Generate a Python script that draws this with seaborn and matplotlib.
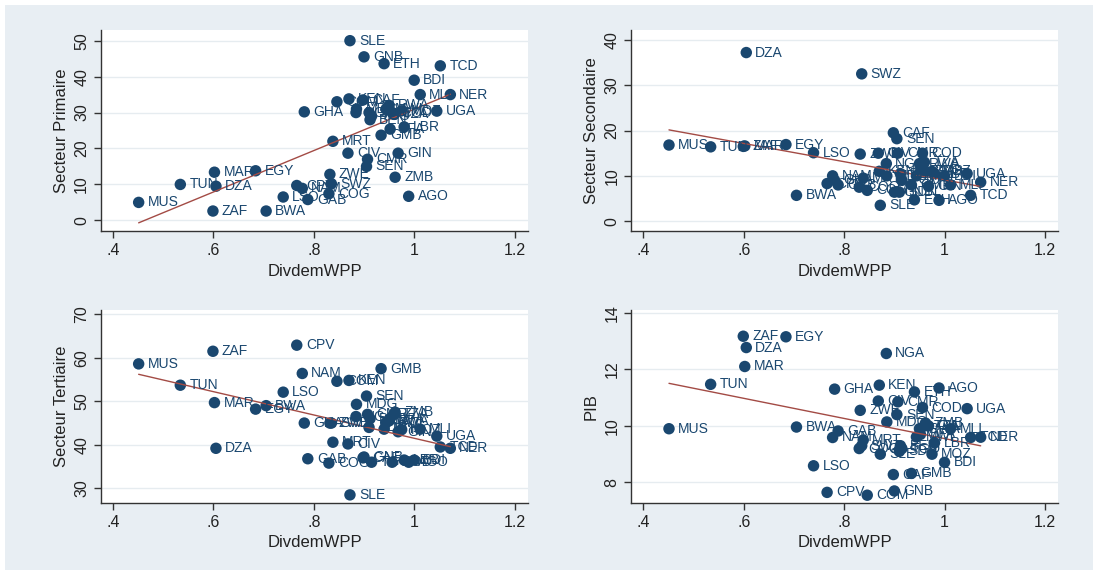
import matplotlib
matplotlib.use("Agg")
import matplotlib.pyplot as plt
import seaborn as sns
import numpy as np
import pandas as pd
from matplotlib.patches import Rectangle

# donnees (approximatives)
pays = ["MUS", "TUN", "DZA", "MAR", "ZAF", "EGY", "BWA", "LSO", "CPV", "NAM",
        "GHA", "GAB", "SWZ", "ZWE", "COG", "MRT", "COM", "CIV", "SLE", "KEN",
        "NGA", "MDG", "CAF", "SEN", "CMR", "GNB", "BEN", "TGO", "SDN", "GMB",
        "MWI", "ETH", "RWA", "BFA", "TZA", "COD", "ZMB", "GIN", "MOZ", "LBR",
        "MLI", "AGO", "BDI", "UGA", "TCD", "NER"]
divdem = [0.451, 0.534, 0.605, 0.602, 0.599, 0.684, 0.705, 0.739, 0.766, 0.777,
          0.781, 0.788, 0.835, 0.832, 0.830, 0.838, 0.846, 0.868, 0.872, 0.870,
          0.884, 0.885, 0.898, 0.905, 0.907, 0.900, 0.912, 0.915, 0.910, 0.934,
          0.944, 0.940, 0.950, 0.952, 0.960, 0.956, 0.962, 0.968, 0.975, 0.980,
          1.012, 0.989, 1.000, 1.045, 1.052, 1.072]
primaire = [5.0, 10.0, 9.5, 13.4, 2.6, 13.8, 2.6, 6.5, 9.7, 8.9,
            30.2, 5.8, 10.2, 12.8, 7.4, 22.0, 33.0, 18.7, 50.0, 33.8,
            30.0, 31.0, 33.5, 15.0, 17.0, 45.5, 28.0, 29.0, 30.0, 23.7,
            31.0, 43.6, 32.0, 25.4, 29.5, 30.0, 12.0, 18.7, 30.5, 26.0,
            35.0, 6.7, 39.0, 30.4, 43.0, 35.0]
secondaire = [16.8, 16.4, 37.2, 16.6, 16.5, 16.9, 5.7, 15.1, 8.3, 10.0,
              9.0, 8.0, 32.5, 14.8, 7.5, 9.5, 6.8, 15.0, 3.5, 11.0,
              12.7, 10.0, 19.5, 18.2, 15.0, 6.4, 10.5, 9.0, 6.4, 8.0,
              10.0, 4.7, 12.7, 11.0, 13.0, 15.0, 11.0, 7.7, 11.0, 10.5,
              8.0, 4.6, 10.0, 10.5, 5.7, 8.6]
tertiaire = [58.6, 53.7, 39.2, 49.7, 61.5, 48.2, 49.0, 52.1, 62.9, 56.4,
             45.0, 36.8, 45.0, 45.0, 35.8, 40.6, 54.6, 40.2, 28.5, 54.8,
             46.5, 49.3, 37.0, 51.2, 47.0, 37.2, 46.0, 36.0, 44.0, 57.5,
             45.1, 43.6, 45.5, 46.0, 47.0, 36.0, 47.5, 43.0, 43.5, 36.5,
             43.6, 36.0, 36.5, 42.0, 39.5, 39.2]
pib = [9.9, 11.47, 12.77, 12.1, 13.17, 13.15, 9.96, 8.59, 7.65, 9.59,
       11.3, 9.82, 9.3, 10.55, 9.2, 9.5, 7.55, 10.88, 9.0, 11.44,
       12.56, 10.14, 8.28, 10.4, 10.85, 7.7, 9.3, 9.2, 9.1, 8.32,
       9.61, 11.2, 9.9, 9.7, 10.0, 10.65, 10.1, 10.0, 9.0, 9.4,
       9.9, 11.34, 8.71, 10.61, 9.59, 9.6]

df = pd.DataFrame({"pays": pays, "DivdemWPP": divdem, "Secteur Primaire": primaire,
                   "Secteur Secondaire": secondaire, "Secteur Tertiaire": tertiaire,
                   "PIB": pib})

sns.set_theme(style="ticks")
plt.rcParams["font.family"] = ["Liberation Sans", "DejaVu Sans"]

navy = "#1a476f"
rouge = "#a34b45"
fond = "#e8eef3"

fig = plt.figure(figsize=(10.98, 5.75), dpi=100, facecolor="white")
fig.patches.append(Rectangle((5 / 1098, 5 / 575), 1088 / 1098, 565 / 575,
                             transform=fig.transFigure, facecolor=fond,
                             edgecolor="none", zorder=-10))

panneaux = [
    ("Secteur Primaire", [0.092, 0.598, 0.389, 0.350], (-3, 53), [0, 10, 20, 30, 40, 50]),
    ("Secteur Secondaire", [0.575, 0.598, 0.389, 0.350], (-2.2, 42.2), [0, 10, 20, 30, 40]),
    ("Secteur Tertiaire", [0.092, 0.125, 0.389, 0.336], (26.6, 71), [30, 40, 50, 60, 70]),
    ("PIB", [0.575, 0.125, 0.389, 0.336], (7.27, 14.1), [8, 10, 12, 14]),
]

for var, pos, ylim, yticks in panneaux:
    ax = fig.add_axes(pos)
    ax.set_facecolor("white")
    for y in yticks:
        ax.axhline(y, color="#e6ecf0", lw=1, zorder=0)
    sns.scatterplot(data=df, x="DivdemWPP", y=var, ax=ax, color=navy, s=68,
                    edgecolor="none", zorder=3)
    sns.regplot(data=df, x="DivdemWPP", y=var, ax=ax, scatter=False, ci=None,
                color=rouge, line_kws={"lw": 1, "zorder": 4})
    for p, xv, yv in zip(df["pays"], df["DivdemWPP"], df[var]):
        ax.annotate(p, (xv, yv), xytext=(6.5, 0), textcoords="offset points",
                    va="center", ha="left", fontsize=10, color=navy, zorder=5)
    ax.set_xlim(0.376, 1.227)
    ax.set_ylim(*ylim)
    ax.set_xticks([0.4, 0.6, 0.8, 1.0, 1.2])
    ax.set_xticklabels([".4", ".6", ".8", "1", "1.2"])
    ax.set_yticks(yticks)
    ax.set_yticklabels([str(t) for t in yticks], rotation=90, va="center")
    ax.tick_params(axis="both", labelsize=11.5, length=5, width=1, color="#333333",
                   labelcolor="#222222")
    ax.set_xlabel("DivdemWPP", fontsize=12, color="#222222")
    ax.set_ylabel(var, fontsize=12, color="#222222")
    for s in ["top", "right"]:
        ax.spines[s].set_visible(False)
    for s in ["left", "bottom"]:
        ax.spines[s].set_color("#333333")
        ax.spines[s].set_linewidth(1)

fig.savefig("out.png", dpi=100, facecolor=fig.get_facecolor())
